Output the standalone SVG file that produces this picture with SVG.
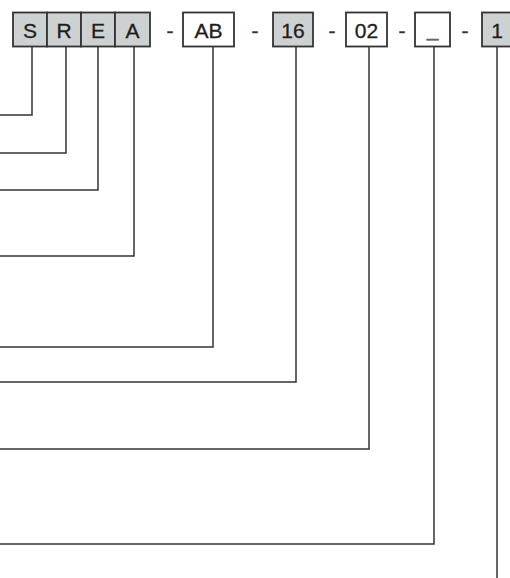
<svg xmlns="http://www.w3.org/2000/svg" width="510" height="578" viewBox="0 0 510 578">
<style>
.g{fill:#cdd1d1;stroke:#333;stroke-width:1.8}
.w{fill:#ffffff;stroke:#333;stroke-width:1.8}
.t{font-family:"Liberation Sans",Arial,sans-serif;font-size:21px;fill:#1e1e1e;text-anchor:middle;stroke:#1e1e1e;stroke-width:0.3}
.d{font-family:"Liberation Sans",Arial,sans-serif;font-size:21px;fill:#333;text-anchor:middle;stroke:#333;stroke-width:0.4}
.c{fill:none;stroke:#333;stroke-width:1.5}
</style>
<rect width="510" height="578" fill="#fff"/>
<g id="node-S"><rect class="g" x="13" y="12.5" width="34" height="34"/><text class="t" x="30" y="38">S</text></g>
<g id="node-R"><rect class="g" x="47" y="12.5" width="34" height="34"/><text class="t" x="64" y="38">R</text></g>
<g id="node-E"><rect class="g" x="81" y="12.5" width="34" height="34"/><text class="t" x="98" y="38">E</text></g>
<g id="node-A"><rect class="g" x="115" y="12.5" width="35" height="34"/><text class="t" x="132.5" y="38">A</text></g>
<text class="d" x="170" y="38">-</text>
<g id="node-AB"><rect class="w" x="183" y="12.5" width="51" height="34"/><text class="t" x="208.5" y="38">AB</text></g>
<text class="d" x="255" y="38">-</text>
<g id="node-16"><rect class="g" x="273" y="12.5" width="40" height="34"/><text class="t" x="293" y="38">16</text></g>
<text class="d" x="332" y="38">-</text>
<g id="node-02"><rect class="w" x="346" y="12.5" width="41" height="34"/><text class="t" x="366.5" y="38">02</text></g>
<text class="d" x="402" y="38">-</text>
<g id="node-blank"><rect class="w" x="415" y="12.5" width="35" height="34"/><text class="t" x="432.5" y="36" style="fill:#666;stroke:#666">_</text></g>
<text class="d" x="465" y="38">-</text>
<g id="node-1"><rect class="g" x="482" y="12.5" width="34" height="34"/><text class="t" x="497" y="38">1</text></g>
<g id="connectors">
<polyline class="c" points="32,46.5 32,115 0,115"/>
<polyline class="c" points="66,46.5 66,153 0,153"/>
<polyline class="c" points="98,46.5 98,190 0,190"/>
<polyline class="c" points="134,46.5 134,256 0,256"/>
<polyline class="c" points="213,46.5 213,347 0,347"/>
<polyline class="c" points="296,46.5 296,382 0,382"/>
<polyline class="c" points="369,46.5 369,449 0,449"/>
<polyline class="c" points="434,46.5 434,544 0,544"/>
<polyline class="c" points="497,46.5 497,578"/>
</g>
</svg>
